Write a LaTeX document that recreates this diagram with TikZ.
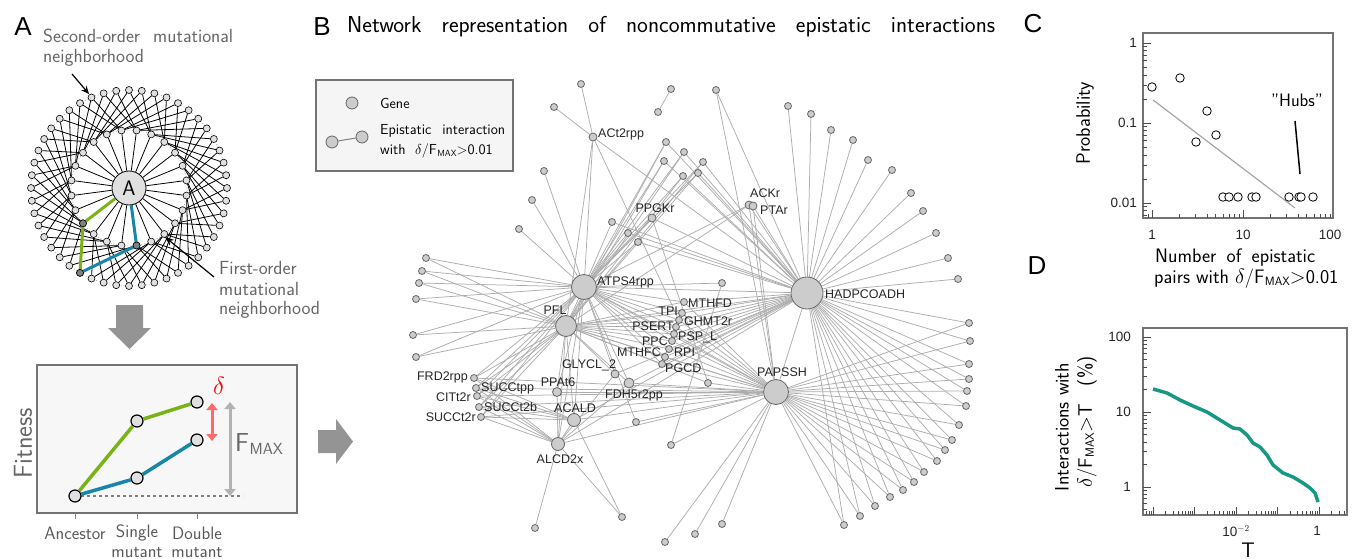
\documentclass[tikz,border=0pt]{standalone}
\usepackage{fontspec}
\usepackage{graphicx}
\usetikzlibrary{arrows.meta,backgrounds}
\newfontfamily\arial{Liberation Sans}
\newcommand{\fs}[1]{\fontsize{#1}{#1}\selectfont}
\newcommand{\FM}{F\kern0.02em\raisebox{-0.25ex}{\scalebox{0.62}{MAX}}}
\definecolor{fgreen}{RGB}{122,179,23}
\definecolor{fblue}{RGB}{22,135,170}
\definecolor{dred}{RGB}{255,105,105}
\definecolor{tealc}{RGB}{22,152,132}
\begin{document}
\begin{tikzpicture}[x=1pt,y=-1pt,
  av/.style={circle,draw=black,line width=0.6pt,fill=black!12,minimum size=7pt,inner sep=0pt},
  avd/.style={av,fill=black!50},
  aedge/.style={line width=0.8pt,black},
  fpt/.style={circle,draw=black,line width=1.2pt,fill=black!12,minimum size=12pt,inner sep=0pt},
  gnode/.style={circle,draw=black!60,line width=0.8pt,fill=black!20,inner sep=0pt,minimum size=7pt},
  edge/.style={black!32,line width=0.75pt},
  lab/.style={font={\arial\fs{12.5}},text=black!85,inner sep=0pt},
  txt/.style={font={\sffamily\fs{19.5}},inner sep=0pt},
  gtxt/.style={font={\sffamily\fs{19}},inner sep=0pt,text=black!60},
  ftxt/.style={font={\sffamily\fs{18}},inner sep=0pt,text=black!65},
  panel/.style={font={\arial\fs{26}},inner sep=0pt},
  tickc/.style={black!70,line width=0.6pt},
  ticklab/.style={font={\arial\fs{13.5}},inner sep=0pt,text=black!85},
  axbox/.style={draw=black!55,line width=1.8pt},
  cpt/.style={circle,draw=black,line width=0.8pt,fill=white,minimum size=8.5pt,inner sep=0pt},
  blk/.style={fill=black!42,draw=none}
]
\useasboundingbox (0,0) rectangle (1357,559);

% ---------------- panel labels
\node[panel] (lA) at (23,27) {A};
\node[panel] (lB) at (322,27) {B};
\node[panel] (lC) at (1033,24) {C};
\node[panel] (lD) at (1037,266) {D};

% ---------------- Panel A : mutational neighborhoods
\coordinate (Ac) at (129,188);
\begin{pgfonlayer}{background}
\draw[black!30,dotted,line width=0.8pt] (Ac) circle[radius=58pt];
\draw[black!30,dotted,line width=0.8pt] (Ac) circle[radius=98pt];
\end{pgfonlayer}
\node[circle,draw=black,line width=0.8pt,fill=black!12,minimum size=34pt,inner sep=0pt,font={\sffamily\fs{21}}] (A) at (Ac) {A};
\foreach \i in {0,...,23}{
  \pgfmathsetmacro\a{7.5+15*\i}
  \node[av] (in\i) at ({129+58*cos(\a)},{188-58*sin(\a)}) {};
}
\foreach \k in {0,...,47}{
  \pgfmathsetmacro\a{7.5*\k}
  \node[av] (out\k) at ({129+98*cos(\a)},{188-98*sin(\a)}) {};
}
\begin{pgfonlayer}{background}
\foreach \i in {0,...,23}{ \draw[aedge] (A) -- (in\i); }
\foreach \k in {0,...,47}{
  \pgfmathtruncatemacro\ia{mod(int((\k+45)/2),24)}
  \pgfmathtruncatemacro\ib{mod(int((\k+5)/2),24)}
  \draw[aedge] (out\k) -- (in\ia);
  \draw[aedge] (out\k) -- (in\ib);
}
\end{pgfonlayer}
\draw[fgreen,line width=3pt,line join=round] (A) -- (in14.center) -- (out32);
\draw[fblue,line width=3pt,line join=round] (A) -- (in18.center) -- (out32);
\node[avd] (dk1) at (in14) {};
\node[avd] (dk2) at (in18) {};
\node[avd] (dk3) at (out32) {};

\node[gtxt,anchor=west] (t2a) at (43,36) {\makebox[190pt][s]{Second-order mutational}};
\node[gtxt,anchor=west] (t2b) at (43,58) {neighborhood};
\coordinate (a2s) at (72,74);
\coordinate (a2e) at (89,94);
\draw[-{Stealth[length=8pt,width=7pt]},line width=1.2pt] (a2s) -- (a2e);
\node[gtxt,anchor=west] (t1a) at (219,268) {First-order};
\node[gtxt,anchor=west] (t1b) at (219,289) {mutational};
\node[gtxt,anchor=west] (t1c) at (219,310) {neighborhood};
\coordinate (a1s) at (214,277);
\coordinate (a1e) at (165,237);
\draw[-{Stealth[length=9pt,width=7pt]},line width=1.2pt] (a1s) -- (a1e);

% block arrows
\fill[blk] (116,305) -- (143,305) -- (143,328) -- (151,328) -- (129.5,349) -- (108,328) -- (116,328) -- cycle;
\fill[blk] (318,430) -- (336,430) -- (336,419) -- (353,441.5) -- (336,464) -- (336,453) -- (318,453) -- cycle;

% ---------------- Fitness panel
\draw[fill=black!3,draw=black!55,line width=2pt] (37,365) rectangle (297,513);
\node[font={\sffamily\fs{26}},text=black!60,rotate=90,inner sep=0pt] (fit) at (23,443) {Fitness};
\draw[dashed,black!50,line width=1.2pt] (75,496) -- (243,496);
\node[fpt] (anc) at (75,496) {};
\node[fpt] (sg) at (137,421) {};
\node[fpt] (dg) at (197,402) {};
\node[fpt] (sb) at (137,478) {};
\node[fpt] (db) at (197,440) {};
\draw[fgreen,line width=3.5pt] (anc) -- (sg) -- (dg);
\draw[fblue,line width=3.5pt] (anc) -- (sb) -- (db);
\coordinate (r1) at (212,403);
\coordinate (r2) at (212,441);
\draw[dred,line width=3pt,{Triangle[length=7pt,width=11pt]}-{Triangle[length=7pt,width=11pt]}] (r1) -- (r2);
\coordinate (g1) at (230,402);
\coordinate (g2) at (230,496);
\draw[black!30,line width=3pt,{Triangle[length=7pt,width=11pt]}-{Triangle[length=7pt,width=11pt]}] (g1) -- (g2);
\node[font={\fs{28}},text=red,inner sep=0pt] (delta) at (219,386) {$\delta$};
\node[font={\sffamily\fs{26}},text=black!60,anchor=west,inner sep=0pt] (fmax) at (235,444) {\FM};
\foreach \x in {75,137,197}{ \draw[black!50,line width=1pt] (\x,513) -- (\x,519); }
\node[ftxt] (anl) at (75,533) {Ancestor};
\node[ftxt] (sil) at (137,533) {Single};
\node[ftxt] (sml) at (137,553) {mutant};
\node[ftxt] (dol) at (197,533) {Double};
\node[ftxt] (dml) at (197,553) {mutant};

% ---------------- Panel B
\node[anchor=west,inner sep=0pt,font={\sffamily\fs{23}}] (title) at (347,27) {\makebox[648pt][s]{Network representation of noncommutative epistatic interactions}};
% legend
\draw[fill=black!4,draw=black!55,line width=2pt] (316,80) rectangle (513,171);
\node[gnode,minimum size=12pt] (lg1) at (352,103) {};
\node[gnode,minimum size=12pt] (lg2) at (332,142) {};
\node[gnode,minimum size=12pt] (lg3) at (362,137) {};
\draw[black!50,line width=1pt] (lg2) -- (lg3);
\node[anchor=west,inner sep=0pt,font={\sffamily\fs{14.5}}] (lt1) at (380,103) {Gene};
\node[anchor=west,inner sep=0pt,font={\sffamily\fs{14.5}}] (lt2) at (380,131) {\makebox[125pt][s]{Epistatic interaction}};
\node[anchor=west,inner sep=0pt,font={\sffamily\fs{14.5}}] (lt3) at (380,151) {with\ \ $\delta$/\FM{}$>$0.01};

% hubs and named nodes
\node[gnode,minimum size=25pt] (ATPS) at (584,287) {};
\node[gnode,minimum size=32pt] (HAD) at (807,293) {};
\node[gnode,minimum size=21pt] (PFL) at (566,326) {};
\node[gnode,minimum size=25pt] (PAP) at (776,392) {};
\node[gnode,minimum size=13pt] (ALCD) at (558,444) {};
\node[gnode,minimum size=13pt] (ACALD) at (574,420) {};
\node[gnode,minimum size=9pt] (PPAt6) at (557,392) {};
\node[gnode,minimum size=8pt] (GLYCL) at (615,374) {};
\node[gnode,minimum size=10pt] (FDH) at (629,383) {};
\node[gnode] (FRD) at (474,378) {};
\node[gnode] (SUCCtpp) at (476,388) {};
\node[gnode] (CIT) at (477,396) {};
\node[gnode] (SUCCtb) at (479,407) {};
\node[gnode] (SUCCtr) at (481,417) {};
\node[gnode] (MTHFD) at (684,302) {};
\node[gnode] (TPI) at (682,313) {};
\node[gnode] (GHMT) at (679,320) {};
\node[gnode] (PSERT) at (676,327) {};
\node[gnode] (PSPL) at (674,334) {};
\node[gnode] (PPC) at (672,341) {};
\node[gnode] (RPI) at (669,349) {};
\node[gnode] (MTHFC) at (665,357) {};
\node[gnode] (PGCD) at (662,364) {};
\node[gnode,minimum size=8pt] (ACt2rpp) at (593,137) {};
\node[gnode,minimum size=8pt] (ACKr) at (749,205) {};
\node[gnode,minimum size=8pt] (PTAr) at (753,206) {};
\node[gnode,minimum size=8pt] (PPGKr) at (652,218) {};
% small nodes
\foreach \n/\x/\y in {p1/581/84,p2/554/107,p3/671/89,p4/658/112,p5/716/90,p6/666/142,p7/684/152,p8/664/161,p9/703/162,p10/683/176,p11/698/173,p12/612/222,p13/628/233,p14/638/242,p15/544/171,p16/532/200,p17/519/229,p18/426/258,p19/422/271,p20/419/283,p21/416/299,p22/413/335,p23/416/357,p24/722/283,p25/708/383,p26/636/422,p27/671/445,p28/535/528,p29/622/517,p30/665/542,p31/695/534,p32/722/524}
  {\node[gnode] (\n) at (\x,\y) {};}
\foreach \n/\x/\y in {q1/788/106,q2/811/114,q3/831/130,q4/853/140,q5/868/160,q6/892/170,q7/911/193,q8/923/211,q9/936/233,q10/948/258,q11/958/279}
  {\node[gnode] (\n) at (\x,\y) {};}
\foreach \n/\x/\y in {r1/969/323,r2/970/341,r3/969/364,r4/969/379,r5/967/391,r6/966/406,r7/959/425,r8/952/440,r9/945/450,r10/937/461,r11/924/472,r12/914/482,r13/903/490,r14/890/497,r15/875/506,r16/860/516,r17/844/525}
  {\node[gnode] (\n) at (\x,\y) {};}

\begin{pgfonlayer}{background}
\foreach \i in {1,...,11}{ \draw[edge] (HAD) -- (q\i); }
\foreach \i in {1,...,17}{ \draw[edge] (HAD) -- (r\i); \draw[edge] (PAP) -- (r\i); }
\foreach \n in {p30,p31,p32,p27,p25,p26}{ \draw[edge] (PAP) -- (\n); }
\foreach \n in {MTHFD,TPI,GHMT,PSERT,PSPL,PPC,RPI,MTHFC,PGCD}{
  \foreach \h in {ATPS,PFL,HAD,PAP}{ \draw[edge] (\h) -- (\n); } }
\foreach \n in {FRD,SUCCtpp,CIT,SUCCtb,SUCCtr}{
  \foreach \h in {ATPS,PFL,ALCD,ACALD,PAP}{ \draw[edge] (\h) -- (\n); } }
\foreach \n in {p6,p7,p8,p9,p10,p11}{
  \foreach \h in {ATPS,PFL,HAD}{ \draw[edge] (\h) -- (\n); } }
\foreach \n in {p12,p13,p14,PPGKr}{
  \foreach \h in {ATPS,HAD}{ \draw[edge] (\h) -- (\n); } }
\foreach \n in {p15,p16,p17,ACt2rpp,p24,p26}{ \draw[edge] (ATPS) -- (\n); }
\foreach \n in {p18,p19,p20,p21,p22,p23}{ \draw[edge] (ATPS) -- (\n); \draw[edge] (PFL) -- (\n); }
\draw[edge] (p1) -- (ACt2rpp);
\draw[edge] (p2) -- (ACt2rpp);
\draw[edge] (ACt2rpp) -- (HAD);
\draw[edge] (ACt2rpp) -- (PFL);
\draw[edge] (ACt2rpp) -- (GHMT);
\draw[edge] (p3) -- (p4);
\draw[edge] (p5) -- (PAP);
\draw[edge] (p5) -- (HAD);
\foreach \h in {ATPS,PFL,PAP,HAD}{ \draw[edge] (ACKr) -- (\h); }
\draw[edge] (PTAr) -- (HAD);
\draw[edge] (PTAr) -- (PAP);
\draw[edge] (PPGKr) -- (p25);
\draw[edge] (p24) -- (p27);
\draw[edge] (p25) -- (PFL);
\draw[edge] (p28) -- (ALCD);
\draw[edge] (p29) -- (ALCD);
\draw[edge] (p29) -- (ACALD);
\foreach \h in {PFL,ALCD,PAP,ATPS}{ \draw[edge] (PPAt6) -- (\h); }
\foreach \h in {PFL,ALCD,HAD,ATPS}{ \draw[edge] (GLYCL) -- (\h); }
\foreach \h in {ATPS,PFL,ALCD,HAD,PAP}{ \draw[edge] (FDH) -- (\h); }
\foreach \h in {ATPS,PFL,ALCD,HAD,PAP}{ \draw[edge] (ACALD) -- (\h); }
\foreach \h in {ATPS,PFL,HAD,PAP}{ \draw[edge] (ALCD) -- (\h); }
\draw[edge] (ATPS) -- (HAD);
\draw[edge] (ATPS) -- (PAP);
\draw[edge] (ATPS) -- (PFL);
\draw[edge] (PFL) -- (HAD);
\draw[edge] (PFL) -- (PAP);
\draw[edge] (HAD) -- (PAP);
\end{pgfonlayer}

% labels
\node[lab,anchor=west] (tATPS) at (597,282) {ATPS4rpp};
\node[lab,anchor=west] (tHAD) at (825,294) {HADPCOADH};
\node[lab] (tPFL) at (555,310) {PFL};
\node[lab] (tPAP) at (782,372) {PAPSSH};
\node[lab] (tALCD) at (560,459) {ALCD2x};
\node[lab] (tACALD) at (575,408) {ACALD};
\node[lab] (tPPAt6) at (558,382) {PPAt6};
\node[lab] (tGLYCL) at (589,365) {GLYCL\_2};
\node[lab] (tFDH) at (634,395) {FDH5r2pp};
\node[lab,anchor=east] (tFRD) at (468,377) {FRD2rpp};
\node[lab,anchor=west] (tSUCCtpp) at (481,388) {SUCCtpp};
\node[lab,anchor=east] (tCIT) at (471,397) {CITt2r};
\node[lab,anchor=west] (tSUCCtb) at (484,407) {SUCCt2b};
\node[lab,anchor=east] (tSUCCtr) at (476,417) {SUCCt2r};
\node[lab,anchor=west] (tMTHFD) at (688,303) {MTHFD};
\node[lab,anchor=east] (tTPI) at (678,311) {TPI};
\node[lab,anchor=west] (tGHMT) at (684,321) {GHMT2r};
\node[lab,anchor=east] (tPSERT) at (674,326) {PSERT};
\node[lab,anchor=west] (tPSPL) at (678,337) {PSP\_L};
\node[lab,anchor=east] (tPPC) at (668,341) {PPC};
\node[lab,anchor=west] (tRPI) at (674,352) {RPI};
\node[lab,anchor=east] (tMTHFC) at (661,352) {MTHFC};
\node[lab,anchor=west] (tPGCD) at (665,368) {PGCD};
\node[lab,anchor=west] (tACt) at (598,134) {ACt2rpp};
\node[lab,anchor=west] (tACKr) at (750,193) {ACKr};
\node[lab,anchor=west] (tPTAr) at (760,210) {PTAr};
\node[lab] (tPPGKr) at (655,208) {PPGKr};

% ---------------- Panel C
\draw[axbox] (1143,33) rectangle (1333,218);
\foreach \y in {43,123,203}{ \draw[tickc] (1143,\y) -- (1151,\y); }
\foreach \b in {123,203,283}{
  \foreach \m in {2,...,9}{
    \pgfmathsetmacro\yy{\b-80*log10(\m)}
    \pgfmathtruncatemacro\ok{and(\yy>34,\yy<217)}
    \ifnum\ok=1 \draw[tickc] (1143,\yy) -- (1147,\yy); \fi
  }
}
\foreach \x in {1152,1243}{ \draw[tickc] (\x,218) -- (\x,210); }
\foreach \b in {1061,1152,1243}{
  \foreach \m in {2,...,9}{
    \pgfmathsetmacro\xx{\b+91*log10(\m)}
    \pgfmathtruncatemacro\ok{and(\xx>1144,\xx<1332)}
    \ifnum\ok=1 \draw[tickc] (\xx,218) -- (\xx,214); \fi
  }
}
\node[ticklab,anchor=east] (cy1) at (1137,43) {1};
\node[ticklab,anchor=east] (cy2) at (1137,123) {0.1};
\node[ticklab,anchor=east] (cy3) at (1137,203) {0.01};
\node[ticklab] (cx1) at (1152,235) {1};
\node[ticklab] (cx2) at (1243,235) {10};
\node[ticklab] (cx3) at (1330,235) {100};
\coordinate (fit1) at (1153,100);
\coordinate (fit2) at (1295,208);
\draw[black!35,line width=1.2pt] (fit1) -- (fit2);
\foreach \x/\y [count=\c] in {1152/87,1180/78,1196/142,1207/111,1216/135,1223/197,1229/197,1238/197,1252/197,1256/197,1289/197,1299/197,1301/197,1313/197}
  {\node[cpt] (cp\c) at (\x,\y) {};}
\node[inner sep=0pt,font={\sffamily\fs{18}}] (hubs) at (1297,100) {\char"22 Hubs\char"22};
\coordinate (h1) at (1295,121);
\coordinate (h2) at (1300,174);
\draw[line width=1.5pt] (h1) -- (h2);
\node[txt,rotate=90] (prob) at (1085,123) {Probability};
\node[txt,anchor=west] (cxl1) at (1155,258) {\makebox[160pt][s]{Number of epistatic}};
\node[txt,anchor=west] (cxl2) at (1154,279) {pairs with $\delta$/\FM{}$>$0.01};

% ---------------- Panel D
\draw[axbox] (1143,328) rectangle (1347,515);
\foreach \y in {337,412,487}{ \draw[tickc] (1143,\y) -- (1151,\y); }
\foreach \b in {412,487,562}{
  \foreach \m in {2,...,9}{
    \pgfmathsetmacro\yy{\b-75*log10(\m)}
    \pgfmathtruncatemacro\ok{and(\yy>329,\yy<514)}
    \ifnum\ok=1 \draw[tickc] (1143,\yy) -- (1147,\yy); \fi
  }
}
\foreach \x in {1153,1194.5,1236,1277.5,1319}{ \draw[tickc] (\x,515) -- (\x,507); }
\foreach \b in {1111.5,1153,1194.5,1236,1277.5,1319}{
  \foreach \m in {2,...,9}{
    \pgfmathsetmacro\xx{\b+41.5*log10(\m)}
    \pgfmathtruncatemacro\ok{and(\xx>1144,\xx<1346)}
    \ifnum\ok=1 \draw[tickc] (\xx,515) -- (\xx,511); \fi
  }
}
\node[ticklab,anchor=east] (dy1) at (1131,337) {100};
\node[ticklab,anchor=east] (dy2) at (1131,412) {10};
\node[ticklab,anchor=east] (dy3) at (1131,487) {1};
\node[ticklab] (dx1) at (1236,531) {10$^{-2}$};
\node[ticklab] (dx2) at (1317,531) {1};
\node[inner sep=0pt,anchor=base,font={\sffamily\fs{21}}] (dT) at (1248,557) {T};
\node[txt,rotate=90] (dyl1) at (1062,427) {Interactions with};
\node[txt,rotate=90] (dyl2) at (1087,422) {$\delta$/\FM{}$>$T\ \ \ (\%)};
\draw[tealc,line width=3.5pt,line join=round] plot coordinates {(1153,389) (1167,393) (1180,400) (1193,406) (1207,412) (1220,420) (1233,428) (1240,429) (1247,435) (1253,443) (1260,447) (1267,455) (1273,465) (1283,473) (1293,477) (1303,483) (1310,488) (1315,493) (1318,502)};

\end{tikzpicture}
\end{document}
